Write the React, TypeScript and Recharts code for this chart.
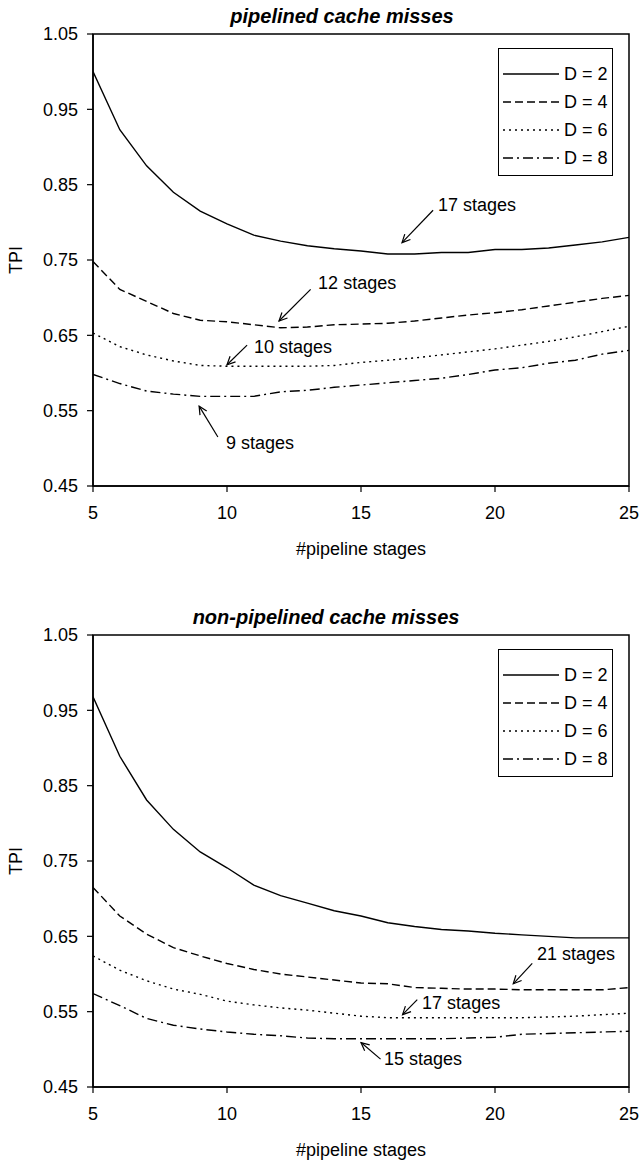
import React from 'react';
import { LineChart, Line, XAxis, YAxis, ReferenceArea, ReferenceLine, ReferenceDot, Legend } from 'recharts';

// #pipeline stages on the x axis
const stages = [5, 6, 7, 8, 9, 10, 11, 12, 13, 14, 15, 16, 17, 18, 19, 20, 21, 22, 23, 24, 25];
const xTicks = [5, 10, 15, 20, 25];
const yTicks = [0.45, 0.55, 0.65, 0.75, 0.85, 0.95, 1.05];

// TPI, pipelined cache misses
const pipeD2 = [1.0, 0.923, 0.875, 0.84, 0.815, 0.798, 0.783, 0.775, 0.769, 0.765, 0.762, 0.758, 0.758, 0.76, 0.76, 0.764, 0.764, 0.766, 0.77, 0.774, 0.78];
const pipeD4 = [0.748, 0.711, 0.695, 0.679, 0.67, 0.668, 0.664, 0.66, 0.661, 0.664, 0.665, 0.666, 0.669, 0.673, 0.677, 0.68, 0.684, 0.689, 0.694, 0.699, 0.703];
const pipeD6 = [0.653, 0.635, 0.624, 0.616, 0.61, 0.609, 0.609, 0.609, 0.609, 0.61, 0.614, 0.617, 0.62, 0.624, 0.628, 0.632, 0.637, 0.642, 0.648, 0.655, 0.662];
const pipeD8 = [0.598, 0.586, 0.576, 0.572, 0.569, 0.569, 0.569, 0.575, 0.577, 0.581, 0.584, 0.587, 0.59, 0.593, 0.598, 0.604, 0.607, 0.613, 0.617, 0.625, 0.63];

// TPI, non-pipelined cache misses
const npD2 = [0.968, 0.889, 0.831, 0.792, 0.762, 0.741, 0.718, 0.704, 0.694, 0.684, 0.677, 0.668, 0.663, 0.659, 0.657, 0.654, 0.652, 0.65, 0.648, 0.648, 0.648];
const npD4 = [0.715, 0.677, 0.653, 0.635, 0.624, 0.614, 0.606, 0.6, 0.596, 0.592, 0.588, 0.587, 0.582, 0.581, 0.58, 0.58, 0.579, 0.579, 0.579, 0.579, 0.582];
const npD6 = [0.624, 0.605, 0.591, 0.58, 0.573, 0.564, 0.559, 0.555, 0.552, 0.548, 0.544, 0.542, 0.542, 0.542, 0.542, 0.542, 0.542, 0.543, 0.544, 0.546, 0.548];
const npD8 = [0.574, 0.558, 0.541, 0.532, 0.527, 0.523, 0.52, 0.518, 0.515, 0.514, 0.514, 0.514, 0.514, 0.514, 0.515, 0.516, 0.52, 0.521, 0.522, 0.523, 0.524];

// annotations: text anchor (tx, ty), arrow tail (x1, y1) -> head (x2, y2), in data units
const pipeNotes = [
  { text: '17 stages', tx: 17.87, ty: 0.823, x1: 17.69, y1: 0.816, x2: 16.53, y2: 0.773 },
  { text: '12 stages', tx: 13.4, ty: 0.719, x1: 13.12, y1: 0.711, x2: 11.94, y2: 0.669 },
  { text: '10 stages', tx: 11.01, ty: 0.634, x1: 10.75, y1: 0.637, x2: 10.0, y2: 0.611 },
  { text: '9 stages', tx: 9.96, ty: 0.507, x1: 9.66, y1: 0.515, x2: 8.96, y2: 0.556 },
];
const npNotes = [
  { text: '21 stages', tx: 21.57, ty: 0.627, x1: 21.39, y1: 0.614, x2: 20.68, y2: 0.587 },
  { text: '17 stages', tx: 17.28, ty: 0.562, x1: 17.1, y1: 0.566, x2: 16.55, y2: 0.546 },
  { text: '15 stages', tx: 15.86, ty: 0.487, x1: 15.73, y1: 0.487, x2: 15.0, y2: 0.509 },
];

const series = [
  { key: 'd2', name: 'D = 2', dash: undefined },
  { key: 'd4', name: 'D = 4', dash: '8 4' },
  { key: 'd6', name: 'D = 6', dash: '2 4' },
  { key: 'd8', name: 'D = 8', dash: '10 4 2 4' },
];

const FONT = '"Liberation Sans", Arial, sans-serif';
const FS = 18;

const toRows = (d2: number[], d4: number[], d6: number[], d8: number[]) =>
  stages.map((s, i) => ({ stage: s, d2: d2[i], d4: d4[i], d6: d6[i], d8: d8[i] }));

const Arrow = (p: any) => {
  const { x1, y1, x2, y2 } = p;
  const a = Math.atan2(y2 - y1, x2 - x1);
  const L = 9;
  const h1 = [x2 - L * Math.cos(a - 0.45), y2 - L * Math.sin(a - 0.45)];
  const h2 = [x2 - L * Math.cos(a + 0.45), y2 - L * Math.sin(a + 0.45)];
  return (
    <g>
      <line x1={x1} y1={y1} x2={x2} y2={y2} stroke="#000" strokeWidth={1.2} />
      <polyline points={`${h1[0]},${h1[1]} ${x2},${y2} ${h2[0]},${h2[1]}`} fill="none" stroke="#000" strokeWidth={1.2} />
    </g>
  );
};

const LegendBox = () => (
  <div style={{ border: '1px solid #000', background: '#fff', width: 113, padding: '11px 0 3px 0', fontFamily: FONT }}>
    {series.map((s) => (
      <div key={s.key} style={{ height: 28, display: 'flex', alignItems: 'center' }}>
        <svg width={61} height={10} style={{ marginLeft: 4 }}>
          <line x1={0} y1={5} x2={56} y2={5} stroke="#000" strokeWidth={1.3} strokeDasharray={s.dash} />
        </svg>
        <span style={{ fontSize: FS, color: '#000', lineHeight: '28px', whiteSpace: 'nowrap' }}>{s.name}</span>
      </div>
    ))}
  </div>
);

type Note = { text: string; tx: number; ty: number; x1: number; y1: number; x2: number; y2: number };

function Panel({ title, titleCenter, rows, notes }: { title: string; titleCenter: number; rows: any[]; notes: Note[] }) {
  return (
    <div style={{ position: 'relative', width: 642, height: 560 }}>
      <div
        style={{
          position: 'absolute', top: 5, left: titleCenter - 200, width: 400, textAlign: 'center',
          fontFamily: FONT, fontSize: 20, fontWeight: 'bold', fontStyle: 'italic', color: '#000', lineHeight: '23px',
        }}
      >
        {title}
      </div>
      <LineChart width={642} height={560} data={rows} margin={{ top: 34, right: 13, bottom: 4, left: 0 }}>
        <XAxis
          dataKey="stage"
          type="number"
          domain={[5, 25]}
          ticks={xTicks}
          allowDataOverflow
          tickSize={6}
          tickMargin={14}
          height={70}
          stroke="#000"
          axisLine={{ stroke: '#000', strokeWidth: 1.5 }}
          tickLine={{ stroke: '#000', strokeWidth: 1.2 }}
          tick={{ fontSize: FS, fill: '#000', fontFamily: FONT }}
          label={{
            content: (p: any) => {
              const vb = p.viewBox;
              return (
                <text x={vb.x + vb.width / 2} y={vb.y + 63} textAnchor="middle" dominantBaseline="central" fontSize={FS} fontFamily={FONT} fill="#000">
                  #pipeline stages
                </text>
              );
            },
          }}
        />
        <YAxis
          type="number"
          domain={[0.45, 1.05]}
          ticks={yTicks}
          allowDataOverflow
          width={93}
          tickSize={6}
          tickMargin={9}
          tickFormatter={(v: number) => v.toFixed(2)}
          stroke="#000"
          axisLine={{ stroke: '#000', strokeWidth: 1.5 }}
          tickLine={{ stroke: '#000', strokeWidth: 1.2 }}
          tick={{ fontSize: FS, fill: '#000', fontFamily: FONT }}
          label={{
            content: (p: any) => {
              const vb = p.viewBox;
              const cx = vb.x + 16;
              const cy = vb.y + vb.height / 2;
              return (
                <text x={cx} y={cy} transform={`rotate(-90 ${cx} ${cy})`} textAnchor="middle" dominantBaseline="central" fontSize={FS} fontFamily={FONT} fill="#000">
                  TPI
                </text>
              );
            },
          }}
        />
        <ReferenceArea x1={5} x2={25} y1={0.45} y2={1.05} fill="none" fillOpacity={0} stroke="#000" strokeWidth={1.5} />
        {series.map((s) => (
          <Line
            key={s.key}
            type="linear"
            dataKey={s.key}
            name={s.name}
            stroke="#000"
            strokeWidth={1.4}
            strokeDasharray={s.dash}
            dot={false}
            activeDot={false}
            isAnimationActive={false}
          />
        ))}
        {notes.map((n) => (
          <ReferenceLine
            key={'a' + n.text}
            segment={[{ x: n.x1, y: n.y1 }, { x: n.x2, y: n.y2 }]}
            stroke="#000"
            shape={Arrow}
          />
        ))}
        {notes.map((n) => (
          <ReferenceDot
            key={'t' + n.text}
            x={n.tx}
            y={n.ty}
            r={0}
            shape={(p: any) => (
              <text x={p.cx} y={p.cy} dominantBaseline="central" fontSize={FS} fontFamily={FONT} fill="#000">
                {n.text}
              </text>
            )}
          />
        ))}
        <Legend
          layout="vertical"
          align="center"
          verticalAlign="middle"
          wrapperStyle={{ left: 498, top: 48, width: 115 }}
          content={() => <LegendBox />}
        />
      </LineChart>
    </div>
  );
}

export default function App() {
  return (
    <div style={{ position: 'absolute', left: 0, top: 0, width: 642, height: 1161, background: '#fff', fontFamily: FONT }}>
      <div style={{ position: 'absolute', left: 0, top: 0 }}>
        <Panel title="pipelined cache misses" titleCenter={342} rows={toRows(pipeD2, pipeD4, pipeD6, pipeD8)} notes={pipeNotes} />
      </div>
      <div style={{ position: 'absolute', left: 0, top: 601 }}>
        <Panel title="non-pipelined cache misses" titleCenter={326} rows={toRows(npD2, npD4, npD6, npD8)} notes={npNotes} />
      </div>
    </div>
  );
}
